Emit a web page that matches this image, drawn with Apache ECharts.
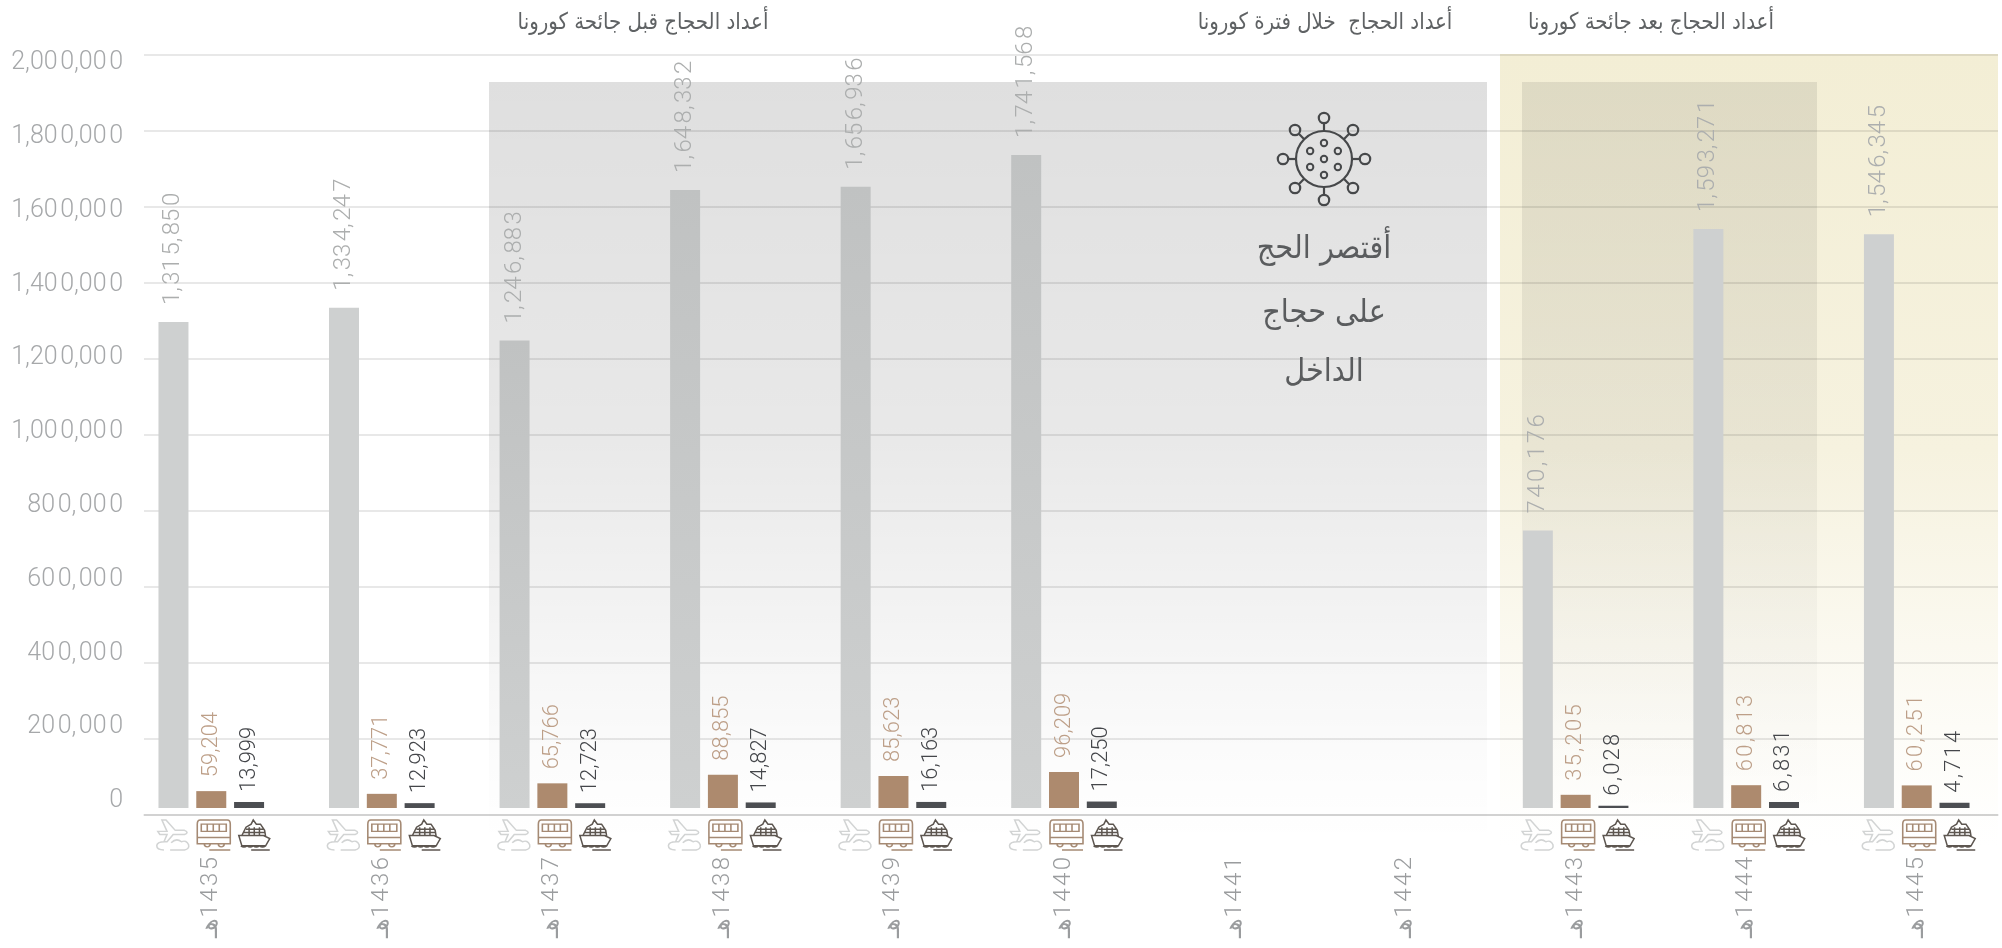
<!DOCTYPE html>
<html><head><meta charset="utf-8">
<style>html,body{margin:0;padding:0;background:#fff}#c{width:2002px;height:948px}</style>
<script src="https://cdn.jsdelivr.net/npm/echarts@6/dist/echarts.min.js"></script>
</head><body><div id="c"></div>
<script>
const years = ['1435','1436','1437','1438','1439','1440','1441','1442','1443','1444','1445'];
// printed value labels
const airLabels  = [1315850,1334247,1246883,1648332,1656936,1741568,null,null,740176,1593271,1546345];
const busLabels  = [59204,37771,65766,88855,85623,96209,null,null,35205,60813,60251];
const shipLabels = [13999,12923,12723,14827,16163,17250,null,null,6028,6831,4714];
// bar heights as drawn in the picture (a few differ from the printed label)
const airBars  = [1296000,1334247,1246883,1648332,1656936,1741568,null,null,740176,1544000,1530000];
const busBars  = [45000,37771,65766,88855,85623,96209,null,null,35205,60813,60251];
const shipBars = [16000,12923,12723,14827,16163,17250,null,null,6028,16000,14000];
const headers = ['أعداد الحجاج قبل جائحة كورونا','أعداد الحجاج  خلال فترة كورونا','أعداد الحجاج بعد جائحة كورونا'];
const noteLines = ['أقتصر الحج','على حجاج','الداخل'];
const shadedYears = ['1437','1438','1439','1440'];

const HAIR = '\u200A';
// widen text by a hair space after every `step` characters
const sp = (s, step) => { let o = ''; const t = String(s);
  for (let i = 0; i < t.length; i++) { o += t[i]; if (i < t.length - 1 && (i + 1) % step === 0) o += HAIR; } return o; };
const fmt = v => Number(v).toLocaleString('en-US');
const LATIN = 'Roboto';
const ARABIC = '"DejaVu Sans"';

const planeIcon = 'path://M2 12H11L6 1H10L19 11H28Q33 13 28 15H17L11 22H8L11 15H4ZM9 22Q1 22 1 26Q1 30 8 30M14 30H28Q33 29 32 25Q30 20 25 22Q20 18 15 23';
const busIcon = 'path://M3 1H30Q33 1 33 5V24H0V5Q0 1 3 1ZM4 5H29V12H4ZM10 5V12M16 5V12M22 5V12M0 18H33M7 24A3 3 0 1 0 13 24M21 24A3 3 0 1 0 27 24M12 30H33';
const shipIcon = 'path://M1 16H25L31 19L27 26H4ZM4 16L8 8L13 5L15 1L18 5H22L26 11L27 17M8 10H25M6 13H26M11 8V16M16 8V16M21 8V16M3 26Q6 28 9 26Q12 28 15 26Q18 28 21 26Q24 28 27 26M13 30H31';

const fadeGradient = stops => ({ type: 'linear', x: 0, y: 0, x2: 0, y2: 1,
  colorStops: stops.map(s => ({ offset: s[0], color: s[1] })) });

function barSeries(name, bars, labels, color, labelColor, dist, fontSize, labelText) {
  return {
    name, type: 'bar', data: bars, xAxisIndex: 1, yAxisIndex: 1, barWidth: 30, barGap: '26%', z: 2,
    itemStyle: { color },
    label: { show: true, position: 'top', rotate: 90, distance: dist, align: 'left', verticalAlign: 'middle',
      color: labelColor, fontFamily: LATIN, fontWeight: 300, fontSize,
      formatter: p => labels[p.dataIndex] == null ? '' : labelText(labels[p.dataIndex], p.dataIndex) }
  };
}
function iconSeries(name, values, symbol, size, dx, color) {
  return {
    name: name + ' icon', type: 'scatter', xAxisIndex: 1, yAxisIndex: 1, clip: false, silent: true, z: 7,
    data: values.map(v => v == null ? null : 0),
    symbol, symbolSize: size, symbolKeepAspect: false, symbolOffset: [dx, 27],
    itemStyle: { color: 'rgba(0,0,0,0)', borderColor: color, borderWidth: 1.5, opacity: 1 }
  };
}

// virus icon rings and dots
const vx = 1324, vy = 159, ink = '#46484a';
const virus = [{ type: 'circle', shape: { cx: vx, cy: vy, r: 28 }, style: { fill: 'none', stroke: ink, lineWidth: 2.2 }, z: 6 }];
for (let i = 0; i < 8; i++) {
  const a = i * Math.PI / 4, c = Math.cos(a), s = Math.sin(a);
  virus.push({ type: 'line', shape: { x1: vx + 28 * c, y1: vy + 28 * s, x2: vx + 36 * c, y2: vy + 36 * s }, style: { stroke: ink, lineWidth: 2.2 }, z: 6 });
  virus.push({ type: 'circle', shape: { cx: vx + 41 * c, cy: vy + 41 * s, r: 5.2 }, style: { fill: 'none', stroke: ink, lineWidth: 2.2 }, z: 6 });
}
virus.push({ type: 'circle', shape: { cx: vx, cy: vy, r: 3.2 }, style: { fill: 'none', stroke: ink, lineWidth: 2 }, z: 6 });
for (let i = 0; i < 6; i++) {
  const a = Math.PI / 2 + i * Math.PI / 3;
  virus.push({ type: 'circle', shape: { cx: vx + 16 * Math.cos(a), cy: vy + 16 * Math.sin(a), r: 3.2 }, style: { fill: 'none', stroke: ink, lineWidth: 2 }, z: 6 });
}

const headerX = [643, 1325, 1651];
const noteY = [250, 314, 373];
const textEls = [];
headers.forEach((t, i) => textEls.push({ type: 'text', x: headerX[i], y: 23, scaleX: 0.86, z: 6, silent: true,
  style: { text: t, fill: '#5f6264', font: '23px ' + ARABIC, textAlign: 'center', textVerticalAlign: 'middle' } }));
noteLines.forEach((t, i) => textEls.push({ type: 'text', x: 1324, y: noteY[i], scaleX: 0.9, z: 6, silent: true,
  style: { text: t, fill: '#5a5c5e', font: '32px ' + ARABIC, textAlign: 'center', textVerticalAlign: 'middle' } }));

const shadedBar = fadeGradient([[0, '#c0c2c2'], [1, '#ced0d0']]);
const airData = airBars.map((v, i) => shadedYears.includes(years[i]) ? { value: v, itemStyle: { color: shadedBar } } : v);

const option = {
  animation: false,
  backgroundColor: '#fff',
  grid: [
    { left: 144, top: 54.5, width: 1854, height: 760 },
    { left: 126, top: 58, width: 1881, height: 750 },
    { left: 144, top: 63, width: 1854, height: 738 }
  ],
  xAxis: [
    { type: 'category', gridIndex: 0, data: years, axisTick: { show: false }, axisLabel: { show: false },
      axisLine: { lineStyle: { color: 'rgba(0,0,0,0.13)', width: 1.5 } } },
    { type: 'category', gridIndex: 1, data: years, axisTick: { show: false }, axisLine: { show: false },
      axisLabel: { rotate: 90, margin: 49, interval: 0, color: '#9a9c9e', fontFamily: LATIN, fontWeight: 300, fontSize: 24,
        padding: [0, 0, 11, 0], formatter: v => '\u0647\u0640\u2066' + sp(v, 1) + '\u2069' } },
    { type: 'category', gridIndex: 2, data: years, show: false }
  ],
  yAxis: [
    { type: 'value', gridIndex: 0, min: 0, max: 2000000, interval: 200000, axisLine: { show: false }, axisTick: { show: false },
      axisLabel: { show: false }, splitLine: { lineStyle: { color: 'rgba(0,0,0,0.12)', width: 1.5 } } },
    { type: 'value', gridIndex: 1, min: 0, max: 2000000, show: false, splitLine: { show: false } },
    { type: 'value', gridIndex: 2, min: 0, max: 2000000, interval: 200000, axisLine: { show: false }, axisTick: { show: false },
      splitLine: { show: false },
      axisLabel: { margin: 21, color: '#a6a8aa', fontFamily: LATIN, fontWeight: 300, fontSize: 25,
        formatter: v => sp(fmt(v), v >= 1000000 ? 4 : 2) } }
  ],
  series: [
    barSeries('air', airData, airLabels, '#ced0d0', '#acaeae', 17, 24, (v) => sp(fmt(v), v < 1000000 ? 1 : 2)),
    barSeries('bus', busBars, busLabels, '#ad8a6e', '#bd9f88', 14, 22, (v, i) => sp(fmt(v), i >= 8 ? 1 : 9)),
    barSeries('ship', shipBars, shipLabels, '#4c4e52', '#44464a', 10, 22, (v) => sp(fmt(v), v < 10000 ? 1 : 9)),
    iconSeries('air', airLabels, planeIcon, [32, 30], -38.5, '#d2d4d4'),
    iconSeries('bus', busLabels, busIcon, [33, 30], 2.5, '#a58a74'),
    iconSeries('ship', shipLabels, shipIcon, [31, 30], 43, '#5d5650')
  ],
  graphic: { elements: [
    { type: 'rect', shape: { x: 1500, y: 54, width: 498, height: 792 }, silent: true, z: -3,
      style: { fill: fadeGradient([[0, '#f3eed5'], [0.5, '#f6f2df'], [0.85, '#fdfcf7'], [1, '#ffffff']]) } },
    { type: 'rect', shape: { x: 1522, y: 82, width: 295, height: 735 }, silent: true, z: -2,
      style: { fill: fadeGradient([[0, 'rgba(0,0,0,0.085)'], [0.45, 'rgba(0,0,0,0.06)'], [1, 'rgba(0,0,0,0)']]) } },
    { type: 'rect', shape: { x: 489, y: 82, width: 998, height: 763 }, silent: true, z: -2,
      style: { fill: fadeGradient([[0, 'rgba(0,0,0,0.125)'], [0.45, 'rgba(0,0,0,0.09)'], [0.9, 'rgba(0,0,0,0.012)'], [1, 'rgba(0,0,0,0)']]) } },
    ...virus, ...textEls
  ] }
};
echarts.init(document.getElementById('c'), null, { renderer: 'canvas' }).setOption(option);
</script></body></html>
